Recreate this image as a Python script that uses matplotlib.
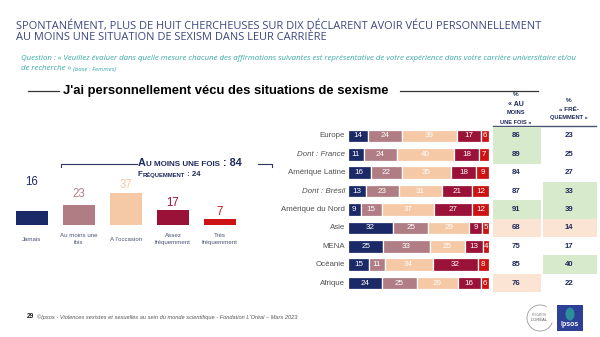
import matplotlib
matplotlib.use("Agg")
import matplotlib.pyplot as plt
import matplotlib.patches as patches

# --- données -------------------------------------------------------------
freq_labels = ["Jamais", "Au moins une\nfois", "A l'occasion", "Assez\nfréquemment", "Très\nfréquemment"]
freq_values = [16, 23, 37, 17, 7]

regions = ["Europe", "Dont : France", "Amérique Latine", "Dont : Brésil", "Amérique du Nord",
           "Asie", "MENA", "Océanie", "Afrique"]
jamais = [14, 11, 16, 13, 9, 32, 25, 15, 24]
au_moins_une = [24, 24, 22, 23, 15, 25, 33, 11, 25]
occasion = [39, 40, 35, 31, 37, 29, 25, 34, 29]
assez_freq = [17, 18, 18, 21, 27, 9, 13, 32, 16]
tres_freq = [6, 7, 9, 12, 12, 5, 4, 8, 6]

pct_au_moins = [86, 89, 84, 87, 91, 68, 75, 85, 76]
pct_frequemment = [23, 25, 27, 33, 39, 14, 17, 40, 22]
# mise en évidence des cellules : g = au-dessus, p = en dessous
hl_au_moins = ["g", "g", "", "", "g", "p", "", "", "p"]
hl_frequemment = ["", "", "", "g", "g", "p", "", "g", ""]

total_au_moins = 84
total_frequemment = 24

# --- styles --------------------------------------------------------------
NAVY = "#1B2A66"
MAUVE = "#B07D84"
PEACH = "#F5C9A6"
CRIMSON = "#9A1238"
RED = "#CC1212"
seg_colors = [NAVY, MAUVE, PEACH, CRIMSON, RED]
hl_colors = {"g": "#D7EACB", "p": "#FCE4D4"}
TXT_NAVY = "#1F2A5C"
SANS = "Liberation Sans"

W, H = 600, 337
fig = plt.figure(figsize=(W / 100, H / 100), dpi=100)
fig.patch.set_facecolor("white")


def px_axes(x0, y0, x1, y1):
    """axes placée en pixels (origine en haut à gauche)"""
    return fig.add_axes([x0 / W, 1 - y1 / H, (x1 - x0) / W, (y1 - y0) / H])


# calque de fond en coordonnées pixels
bg = px_axes(0, 0, W, H)
bg.set_xlim(0, W)
bg.set_ylim(H, 0)
bg.axis("off")
renderer = fig.canvas.get_renderer()


def runs(x, y, parts, color, **kw):
    # texte en petites capitales : morceaux de tailles différentes à la suite
    for s, size in parts:
        t = bg.text(x, y, s, fontsize=size, color=color, va="baseline", ha="left",
                    family=SANS, fontweight="bold", **kw)
        x += t.get_window_extent(renderer).width


# titre
bg.text(16, 26, "SPONTANÉMENT, PLUS DE HUIT CHERCHEUSES SUR DIX DÉCLARENT AVOIR VÉCU PERSONNELLEMENT",
        fontsize=7.9, color="#3A4780", family="Open Sans", va="center", ha="left")
bg.text(16, 38, "AU MOINS UNE SITUATION DE SEXISM DANS LEUR CARRIÈRE",
        fontsize=7.9, color="#3A4780", family="Open Sans", va="center", ha="left")
bg.text(21, 58, "Question : « Veuillez évaluer dans quelle mesure chacune des affirmations suivantes est "
        "représentative de votre expérience dans votre carrière universitaire et/ou",
        fontsize=5.68, color="#38A9A5", family="Open Sans", style="italic", va="center", ha="left")
t = bg.text(21, 69, "de recherche » ", fontsize=5.68, color="#38A9A5", family="Open Sans",
            style="italic", va="center", ha="left")
bg.text(21 + t.get_window_extent(renderer).width, 69.3, "(base : Femmes)", fontsize=4.4,
        color="#38A9A5", family="Open Sans", style="italic", va="center", ha="left")

# sous-titre encadré de traits
bg.plot([28, 59], [91, 91], color="#333333", lw=0.9)
bg.plot([400, 538], [91, 91], color="#333333", lw=0.9)
bg.text(63, 91, "J'ai personnellement vécu des situations de sexisme", fontsize=9.35,
        fontweight="bold", family=SANS, color="black", va="center", ha="left")

# --- graphique de gauche : ensemble -------------------------------------
ax_l = px_axes(8.5, 173.4, 243.5, 225)
ax_l.set_xlim(-0.5, 4.5)
ax_l.set_ylim(0, 60)
ax_l.axis("off")
ax_l.patch.set_alpha(0)
xs = list(range(len(freq_values)))
ax_l.bar(xs, freq_values, width=0.66, color=seg_colors)
label_offsets = [34, 13, 9.5, 8.6, 8.1]
for x, v, off, c, lab in zip(xs, freq_values, label_offsets, seg_colors, freq_labels):
    ax_l.text(x, v + off, str(v), ha="center", va="center", fontsize=8.3, color=c,
              family=SANS, clip_on=False)
    ax_l.text(x, -16.3, lab, ha="center", va="center", fontsize=4.4, color="#4A5575",
              family=SANS, linespacing=1.4, clip_on=False)

# accolade « au moins une fois »
bg.plot([61, 61, 137], [167, 163.5, 163.5], color="#2B3560", lw=0.8)
bg.plot([258, 272, 272], [163.5, 163.5, 167], color="#2B3560", lw=0.8)
runs(138, 166.5, [("A", 7.8), ("U MOINS UNE FOIS", 5.8), (" : %d" % total_au_moins, 7.8)], TXT_NAVY)
runs(138, 176.5, [("F", 5.6), ("RÉQUEMMENT", 4.2), (" : %d" % total_frequemment, 5.6)], TXT_NAVY)

# --- graphique de droite : par région ------------------------------------
row_top, row_bot = 126.8, 292.2
ax_r = px_axes(348, row_top, 489, row_bot)
ax_r.set_xlim(0, 100)
ax_r.set_ylim(len(regions) - 0.5, -0.5)
ax_r.axis("off")
ax_r.patch.set_alpha(0)
ys = list(range(len(regions)))
left = [0] * len(regions)
for vals, c in zip([jamais, au_moins_une, occasion, assez_freq, tres_freq], seg_colors):
    bars = ax_r.barh(ys, vals, left=left, height=0.68, color=c, edgecolor="white", linewidth=0.9)
    ax_r.bar_label(bars, label_type="center", color="white", fontsize=5.8, family=SANS)
    left = [a + b for a, b in zip(left, vals)]
for y, name in zip(ys, regions):
    italic = name.startswith("Dont")
    ax_r.text(-2.2, y, name, ha="right", va="center", fontsize=5.7, color="#505050",
              family=SANS, style="italic" if italic else "normal", clip_on=False)

# tableau des pourcentages
ax_t = px_axes(493, row_top, 597, row_bot)
ax_t.set_xlim(493, 597)
ax_t.set_ylim(len(regions) - 0.5, -0.5)
ax_t.axis("off")
ax_t.patch.set_alpha(0)
for y in ys:
    for (x0, x1), hl, val in [((493, 541), hl_au_moins[y], pct_au_moins[y]),
                              ((543, 597), hl_frequemment[y], pct_frequemment[y])]:
        if hl:
            ax_t.add_patch(patches.Rectangle((x0, y - 0.5), x1 - x0, 1.0,
                                             facecolor=hl_colors[hl], edgecolor="none"))
        ax_t.text((x0 + x1) / 2 - 1, y, str(val), ha="center", va="center", fontsize=5.6,
                  fontweight="bold", color=TXT_NAVY, family=SANS)

# en-têtes du tableau
bg.text(516, 95, "%", ha="center", va="center", fontsize=4.6, fontweight="bold", color=TXT_NAVY, family=SANS)
bg.text(516, 104, "« AU", ha="center", va="center", fontsize=5.0, fontweight="bold", color=TXT_NAVY, family=SANS)
bg.text(516, 113, "MOINS", ha="center", va="center", fontsize=4.1, fontweight="bold", color=TXT_NAVY, family=SANS)
bg.text(516, 122, "UNE FOIS »", ha="center", va="center", fontsize=4.1, fontweight="bold", color=TXT_NAVY, family=SANS)
bg.text(569, 101, "%", ha="center", va="center", fontsize=4.6, fontweight="bold", color=TXT_NAVY, family=SANS)
bg.text(569, 109, "« FRÉ-", ha="center", va="center", fontsize=4.6, fontweight="bold", color=TXT_NAVY, family=SANS)
bg.text(569, 117, "QUEMMENT »", ha="center", va="center", fontsize=4.1, fontweight="bold", color=TXT_NAVY, family=SANS)
bg.plot([493, 596], [126, 126], color="#4A5575", lw=1.0)

# pied de page
bg.text(27, 317, "29", fontsize=4.8, fontweight="bold", color="#222222", family=SANS, va="center", ha="left")
bg.text(37, 317, "©Ipsos - Violences sexistes et sexuelles au sein du monde scientifique - "
        "Fondation L'Oréal – Mars 2023", fontsize=4.1, style="italic", color="#555555",
        family=SANS, va="center", ha="left")

# logos
bg.add_patch(patches.Arc((540, 318), 26, 26, theta1=20, theta2=300, color="#9A9A9A", lw=0.6))
bg.text(539, 315.5, "FONDATION", fontsize=1.8, color="#777777", ha="center", va="center", family=SANS)
bg.text(539, 320, "L'ORÉAL", fontsize=3.0, color="#555555", ha="center", va="center", family=SANS)
bg.add_patch(patches.Rectangle((557, 305), 26, 26, facecolor="#2E3F96", edgecolor="none"))
bg.add_patch(patches.Ellipse((570, 314), 9, 13, facecolor="#2AA3A0", edgecolor="none", alpha=0.8))
bg.text(570, 325, "Ipsos", fontsize=5.0, fontweight="bold", color="white", ha="center", va="center", family=SANS)

fig.savefig("out.png", dpi=100, facecolor="white")
